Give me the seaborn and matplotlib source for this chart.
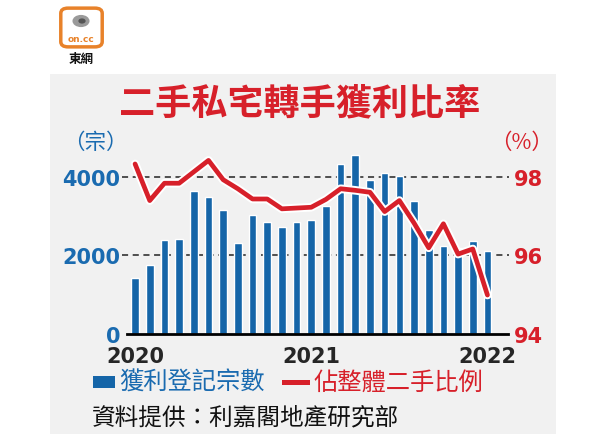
import matplotlib
matplotlib.use('Agg')
import matplotlib.pyplot as plt
import matplotlib.patheffects as pe
from matplotlib.patches import Rectangle, FancyBboxPatch, Circle
import pandas as pd
import seaborn as sns

# 2020年1月 至 2022年1月 (每月)
months = list(range(25))
year_ticks = [0, 12, 24]
year_labels = ['2020', '2021', '2022']

# 獲利登記宗數
cases = [1415, 1762, 2397, 2414, 3625, 3490, 3159, 2321, 3024, 2837, 2727, 2837, 2897,
         3261, 4311, 4548, 3913, 4083, 4024, 3373, 2644, 2229, 2186, 2356, 2102]
# 佔整體二手比例 (%)
ratio = [98.32, 97.39, 97.83, 97.83, 98.12, 98.41, 97.92, 97.69, 97.43, 97.43, 97.18, 97.20, 97.22,
         97.42, 97.69, 97.65, 97.60, 97.11, 97.39, 96.82, 96.19, 96.80, 96.03, 96.16, 94.99]

df = pd.DataFrame({'month': months, 'cases': cases, 'ratio': ratio})

BLUE = '#1565a8'
BLUE_TXT = '#1a6bb0'
RED = '#d7202a'
GREY_BG = '#f1f1f1'

sns.set_style('white')
plt.rcParams['font.family'] = ['Noto Sans CJK TC', 'DejaVu Sans']

W, H = 609, 435
fig = plt.figure(figsize=(W / 100, H / 100), dpi=100, facecolor='white')

# grey panel behind chart
fig.patches.append(Rectangle((50 / W, 0), (556 - 50) / W, 1 - 75 / H, transform=fig.transFigure,
                             facecolor=GREY_BG, edgecolor='none', zorder=-5))

ax = fig.add_axes([127 / W, 1 - 335 / H, (508 - 127) / W, (335 - 150) / H])
ax.set_facecolor('none')

sns.barplot(data=df, x='month', y='cases', native_scale=True, width=0.52, color=BLUE,
            saturation=1, ax=ax, zorder=3)
ax.set_xlim(-0.55, 25.4)
ax.set_ylim(0, 4700)

for yv in [2000, 4000]:
    ax.axhline(yv, xmin=-0.014, xmax=1.003, color='#222222', linestyle=(0, (4, 3)),
               linewidth=1.1, clip_on=False, zorder=1)

ax.set_xticks(year_ticks)
ax.set_xticklabels(year_labels, fontsize=15, fontweight='bold', family='DejaVu Sans')
ax.tick_params(axis='x', direction='out', length=6, width=2, color='black', pad=2.5)
ax.set_yticks([0, 2000, 4000])
ax.set_yticklabels(['0', '2000', '4000'], fontsize=15, fontweight='bold', color=BLUE_TXT,
                   family='DejaVu Sans')
ax.tick_params(axis='y', length=0, pad=5)
ax.set_xlabel('')
ax.set_ylabel('')
for s in ['top', 'right', 'left']:
    ax.spines[s].set_visible(False)
ax.spines['bottom'].set_color('black')
ax.spines['bottom'].set_linewidth(2)
ax.spines['bottom'].set_zorder(5)

ax2 = ax.twinx()
ax2.set_facecolor('none')
sns.lineplot(data=df, x='month', y='ratio', color=RED, linewidth=3.4, ax=ax2,
             path_effects=[pe.Stroke(linewidth=6.2, foreground='white'), pe.Normal()])
ax2.set_ylim(94, 98.7)
ax2.set_yticks([94, 96, 98])
ax2.set_yticklabels(['94', '96', '98'], fontsize=15, fontweight='bold', color=RED,
                    family='DejaVu Sans')
ax2.tick_params(axis='y', length=0, pad=4)
ax2.set_ylabel('')
ax2.set_xlabel('')
for s in ['top', 'right', 'left', 'bottom']:
    ax2.spines[s].set_visible(False)
ax2.set_xlim(-0.55, 25.4)

# title and unit labels
fig.text(300 / W, 1 - 104 / H, '二手私宅轉手獲利比率', color=RED, fontsize=26, fontweight='bold',
         ha='center', va='center')
fig.text(95 / W, 1 - 143 / H, '（宗）', color=BLUE_TXT, fontsize=15.5, ha='center', va='center')
fig.text(522 / W, 1 - 143 / H, '（%）', color=RED, fontsize=15.5, ha='center', va='center')

# legend
fig.patches.append(Rectangle((93 / W, 1 - 389 / H), 22 / W, 12 / H, transform=fig.transFigure,
                             facecolor=BLUE, edgecolor='none', zorder=2))
fig.text(119 / W, 1 - 383 / H, '獲利登記宗數', color=BLUE_TXT, fontsize=17.5, ha='left', va='center')
fig.patches.append(Rectangle((282 / W, 1 - 386 / H), 28 / W, 5 / H, transform=fig.transFigure,
                             facecolor=RED, edgecolor='none', zorder=2))
fig.text(313 / W, 1 - 383 / H, '佔整體二手比例', color=RED, fontsize=17.5, ha='left', va='center')
fig.text(92 / W, 1 - 418 / H, '資料提供：利嘉閣地產研究部', color='#111111', fontsize=17,
         ha='left', va='center')

# on.cc logo
fig.patches.append(FancyBboxPatch((62 / W, 1 - 47 / H), 39 / W, 37 / H, transform=fig.transFigure,
                                  boxstyle='round,pad=0.002,rounding_size=0.012',
                                  facecolor='white', edgecolor='#e8822a', linewidth=2.5))
fig.patches.append(Circle((81 / W, 1 - 22 / H), 0.014, transform=fig.transFigure,
                          facecolor='#9a9a9a', edgecolor='none'))
fig.patches.append(Circle((82 / W, 1 - 22 / H), 0.006, transform=fig.transFigure,
                          facecolor='#555555', edgecolor='none'))
fig.text(81 / W, 1 - 40 / H, 'on.cc', color='#e8822a', fontsize=6.5, fontweight='bold',
         ha='center', va='center', family='DejaVu Sans')
fig.text(81 / W, 1 - 59 / H, '東網', color='#111111', fontsize=9, fontweight='bold',
         ha='center', va='center')

plt.savefig('out.png', dpi=100, facecolor='white')
